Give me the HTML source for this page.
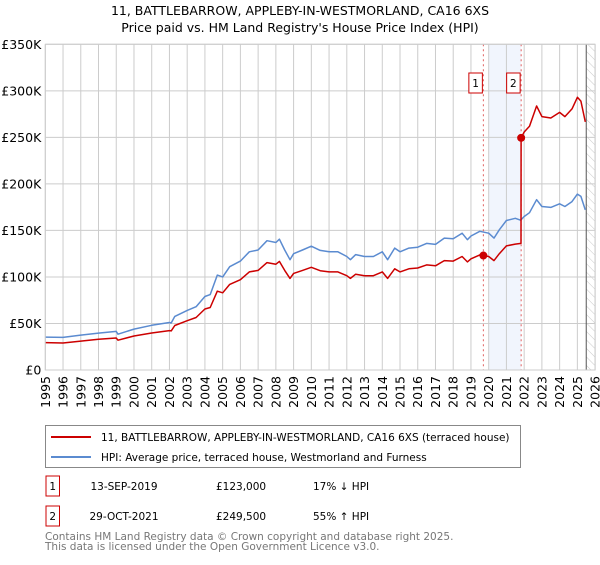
<!DOCTYPE html>
<html><head><meta charset="utf-8"><style>
body{margin:0;background:#fff;}
svg text{font-family:"DejaVu Sans","Liberation Sans",sans-serif;}
</style></head><body>
<svg id="c" width="600" height="560" viewBox="0 0 600 560" xmlns="http://www.w3.org/2000/svg">
<text x="300" y="15" font-size="12.5" text-anchor="middle">11, BATTLEBARROW, APPLEBY-IN-WESTMORLAND, CA16 6XS</text>
<text x="300" y="32" font-size="12.5" text-anchor="middle">Price paid vs. HM Land Registry's House Price Index (HPI)</text>
<g id="grid"></g>
<g id="marks"></g>
<g id="axes"></g>
<g>
<rect x="45.5" y="425.5" width="475" height="42" fill="#fff" stroke="#888"/>
<line x1="51" y1="437" x2="91" y2="437" stroke="#cc0000" stroke-width="2"/>
<text x="101" y="441" font-size="10.5">11, BATTLEBARROW, APPLEBY-IN-WESTMORLAND, CA16 6XS (terraced house)</text>
<line x1="51" y1="457" x2="91" y2="457" stroke="#5b8bd0" stroke-width="2"/>
<text x="101" y="461" font-size="10.5">HPI: Average price, terraced house, Westmorland and Furness</text>
</g>
<g>
<rect x="46" y="476" width="13.5" height="20" fill="#fff" stroke="#cc0000"/>
<text x="52.7" y="490" font-size="10.5" text-anchor="middle">1</text>
<text x="124" y="490" font-size="10.5" text-anchor="middle">13-SEP-2019</text>
<text x="216" y="490" font-size="10.5">£123,000</text>
<text x="313" y="490" font-size="10.5">17% ↓ HPI</text>
<rect x="46" y="506" width="13.5" height="20" fill="#fff" stroke="#cc0000"/>
<text x="52.7" y="520" font-size="10.5" text-anchor="middle">2</text>
<text x="124" y="520" font-size="10.5" text-anchor="middle">29-OCT-2021</text>
<text x="216" y="520" font-size="10.5">£249,500</text>
<text x="313" y="520" font-size="10.5">55% ↑ HPI</text>
</g>
<text x="45" y="540" font-size="10.5" fill="#777">Contains HM Land Registry data © Crown copyright and database right 2025.</text>
<text x="45" y="550" font-size="10.5" fill="#777">This data is licensed under the Open Government Licence v3.0.</text>
</svg>
<script>
const hpiYears=[1995,1996,1997,1998,1999,1999.1,2000,2001,2002,2002.1,2002.3,2003,2003.5,2004,2004.3,2004.7,2005,2005.4,2006,2006.5,2007,2007.5,2008,2008.2,2008.5,2008.8,2009,2009.5,2010,2010.5,2011,2011.5,2012,2012.2,2012.5,2013,2013.5,2014,2014.3,2014.7,2015,2015.5,2016,2016.5,2017,2017.5,2018,2018.5,2018.8,2019,2019.5,2020,2020.3,2020.6,2021,2021.5,2021.8,2022,2022.3,2022.7,2023,2023.5,2024,2024.3,2024.7,2025,2025.2,2025.45];
const hpiValues=[35.4,35,37.5,39.7,41.5,38.5,44,48,51,50.5,57.6,64,68,79,81,102,100,111,117,127,129,139,137,140.6,129,118.5,125,129,133,128.5,127,127,122,118.5,124,122,122,127,118.5,131,127,131,132,136,135,141.7,141,147,140,144,149,147,141.7,150.7,160.7,163,161,165,169,183,175.7,174.7,178.6,175.7,181,189,186.5,172];
const priceYears=[1995,1996,1997,1998,1999,1999.1,2000,2001,2002,2002.1,2002.3,2003,2003.5,2004,2004.3,2004.7,2005,2005.4,2006,2006.5,2007,2007.5,2008,2008.2,2008.5,2008.8,2009,2009.5,2010,2010.5,2011,2011.5,2012,2012.2,2012.5,2013,2013.5,2014,2014.3,2014.7,2015,2015.5,2016,2016.5,2017,2017.5,2018,2018.5,2018.8,2019,2019.5,2020,2020.3,2020.6,2021,2021.5,2021.82,2021.83,2022,2022.3,2022.7,2023,2023.5,2024,2024.3,2024.7,2025,2025.2,2025.45];
const priceValues=[29.4,29,31.1,33,34.4,32,36.5,39.8,42.3,42,47.8,53,56.4,65.6,67.2,84.7,83,92,97,105.4,107,115.4,113.7,116.7,107,98.4,103.8,107,110.4,106.7,105.4,105.4,101.3,98.4,103,101.3,101.3,105.4,98.4,108.7,105.4,108.7,109.6,112.9,112,117.6,117,122,116.2,119.5,123.7,122,117.6,125,133.4,135.3,136,249.5,255.8,262,283.7,272.3,270.8,276.8,272.3,280.6,293,289,266.6];
const saleYears=[2019.70,2021.83];
const salePrices=[123,249.5];
const saleLabels=["1","2"];
const yTicks=[0,50,100,150,200,250,300,350];
const yTickLabels=["£0","£50K","£100K","£150K","£200K","£250K","£300K","£350K"];
const xTicks=[1995,1996,1997,1998,1999,2000,2001,2002,2003,2004,2005,2006,2007,2008,2009,2010,2011,2012,2013,2014,2015,2016,2017,2018,2019,2020,2021,2022,2023,2024,2025,2026];

const L=45.3,R=595.1,T=44.3,B=370;
const X=y=>L+(y-1995)/(2026-1995)*(R-L);
const Y=v=>B-v/350*(B-T);
const NS="http://www.w3.org/2000/svg";
function mk(tag,attrs,parent){const e=document.createElementNS(NS,tag);for(const k in attrs)e.setAttribute(k,attrs[k]);parent.appendChild(e);return e;}
const grid=document.getElementById('grid'),marks=document.getElementById('marks'),axes=document.getElementById('axes');
let band=mk('rect',{x:X(2020),y:T,width:X(saleYears[1])-X(2020),height:B-T,fill:'#eef3fc',opacity:0.8},grid);


const defs=mk('defs',{},grid);
const pat=mk('pattern',{id:'hatch',width:6,height:6,patternUnits:'userSpaceOnUse',patternTransform:'rotate(-45)'},defs);
mk('line',{x1:0,y1:0,x2:0,y2:6,stroke:'#bbb','stroke-width':0.8},pat);
let hz=mk('rect',{x:X(2025.5),y:T,width:R-X(2025.5),height:B-T,fill:'url(#hatch)'},grid);


xTicks.forEach(t=>{let l=mk('line',{x1:X(t),x2:X(t),y1:T,y2:B,stroke:'#ccc','stroke-width':1},grid);

});
yTicks.forEach(t=>{let l=mk('line',{x1:L,x2:R,y1:Y(t),y2:Y(t),stroke:'#ccc','stroke-width':1},grid);

});
let cut=mk('line',{x1:X(2025.5),x2:X(2025.5),y1:T,y2:B,stroke:'#555','stroke-width':1},grid);


saleYears.forEach((s,i)=>{let l=mk('line',{x1:X(s),x2:X(s),y1:T,y2:B,stroke:'#e06060','stroke-width':1,'stroke-dasharray':'2,3'},grid);

});
const pts=(xs,vs)=>xs.map((x,i)=>X(x).toFixed(1)+','+Y(vs[i]).toFixed(1)).join(' ');
let hl=mk('polyline',{points:pts(hpiYears,hpiValues),fill:'none',stroke:'#5b8bd0','stroke-width':1.5,'stroke-linejoin':'round'},marks);


let pl=mk('polyline',{points:pts(priceYears,priceValues),fill:'none',stroke:'#cc0000','stroke-width':1.5,'stroke-linejoin':'round'},marks);


saleYears.forEach((s,i)=>{
let c=mk('circle',{cx:X(s),cy:Y(salePrices[i]),r:4,fill:'#cc0000'},marks);


let bx=X(s)-13.5-1;
let r=mk('rect',{x:bx,y:73,width:13.5,height:20,fill:'#fff',stroke:'#cc0000'},marks);


let t=mk('text',{x:bx+6.75,y:87,'font-size':10.5,'text-anchor':'middle'},marks);t.textContent=saleLabels[i];


});
let fr=mk('rect',{x:L,y:T,width:R-L,height:B-T,fill:'none',stroke:'#ccc'},axes);


yTicks.forEach((t,i)=>{let e=mk('text',{x:L-4,y:Y(t)+4.5,'font-size':12.5,'text-anchor':'end'},axes);e.textContent=yTickLabels[i];

});
xTicks.forEach(t=>{let e=mk('text',{x:0,y:0,'font-size':12.5,'text-anchor':'end',transform:`translate(${X(t)+4.5},${B+6}) rotate(-90)`},axes);e.textContent=t;

});
</script>
</body></html>
